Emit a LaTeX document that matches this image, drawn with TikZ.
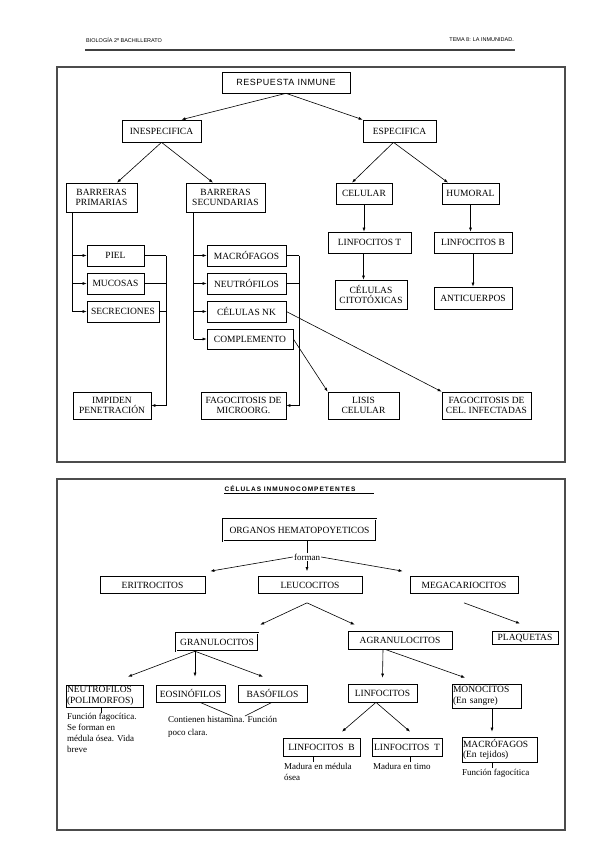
\documentclass[tikz,border=0pt]{standalone}
\usepackage{fontspec}
\setmainfont{Liberation Serif}
\newfontfamily\headsans{Liberation Sans}
\newfontfamily\titlesans[LetterSpace=6]{Liberation Sans}
\newfontfamily\capsans[LetterSpace=15]{Liberation Sans}
\usetikzlibrary{arrows.meta}

\begin{document}
\begin{tikzpicture}[x=1pt, y=-1pt,
        box/.style={draw, line width=0.7pt, inner sep=1pt, align=center, font=\fontsize{9.5}{10.5}\selectfont},
        dbox/.style={box, double, double distance=0.8pt, line width=0.5pt},
        lbox/.style={box, align=left},
        wh/.style 2 args={minimum width=#1pt, minimum height=#2pt},
        note/.style={inner sep=0pt, align=left, anchor=north west, font=\fontsize{9}{11}\selectfont},
        arr/.style={-{Latex[length=4pt,width=3pt]}, line width=0.6pt},
        frame/.style={line width=1.2pt, draw=black!70}]
    \useasboundingbox (0,0) rectangle (599,848);

    % cabecera
    \node[anchor=west, inner sep=0pt, font=\headsans\fontsize{5.5}{6}\selectfont] (hleft) at (86,40) {BIOLOGÍA 2º BACHILLERATO};
    \node[anchor=east, inner sep=0pt, font=\headsans\fontsize{5.5}{6}\selectfont] (hright) at (514,40) {TEMA 8: LA INMUNIDAD.};
    \draw[line width=1.2pt, black!75] (85,50) -- (515,50);

    \draw[frame] (57,67) rectangle (565,462);
    \draw[frame] (57,479) rectangle (565,830);

    % respuesta inmune
    \node[box, wh={128}{21}, font=\titlesans\fontsize{9}{10}\selectfont] (resp) at (286,82.5) {RESPUESTA INMUNE};
    \node[box, wh={79}{22}] (ines) at (161.5,131) {INESPECIFICA};
    \node[box, wh={73}{22}] (espe) at (399.5,131) {ESPECIFICA};
    \node[box, wh={71}{29}] (bprim) at (101.5,197.5) {BARRERAS\\PRIMARIAS};
    \node[box, wh={79}{29}] (bsec) at (225.5,197.5) {BARRERAS\\SECUNDARIAS};
    \node[box, wh={56}{21}] (celu) at (364,193.5) {CELULAR};
    \node[box, wh={57}{21}] (humo) at (470.5,193.5) {HUMORAL};
    \node[box, wh={83}{21}] (lint) at (369.5,242.5) {LINFOCITOS T};
    \node[box, wh={78}{21}] (linb) at (473,242.5) {LINFOCITOS B};
    \node[box, wh={72}{29}] (citot) at (371,294.5) {CÉLULAS\\CITOTÓXICAS};
    \node[box, wh={78}{22}] (anti) at (473,298) {ANTICUERPOS};

    \node[box, wh={57}{21}] (piel) at (115.5,255.5) {PIEL};
    \node[box, wh={57}{21}] (muco) at (115.5,283.5) {MUCOSAS};
    \node[box, wh={72}{21}] (secr) at (123,311.5) {SECRECIONES};
    \node[box, wh={78}{27}] (impid) at (112,405.5) {IMPIDEN\\PENETRACIÓN};

    \node[box, wh={79}{21}] (macro) at (246.5,255.5) {MACRÓFAGOS};
    \node[box, wh={79}{21}] (neutro) at (246.5,283.5) {NEUTRÓFILOS};
    \node[box, wh={79}{21}] (nk) at (246.5,311.5) {CÉLULAS NK};
    \node[box, wh={86}{20}] (compl) at (250,339) {COMPLEMENTO};
    \node[box, wh={85}{27}] (fmicro) at (243.5,405.5) {FAGOCITOSIS DE\\MICROORG.};
    \node[box, wh={71}{27}] (lisis) at (363.5,405.5) {LISIS\\CELULAR};
    \node[box, wh={89}{27}] (finfec) at (486.5,405.5) {FAGOCITOSIS DE\\CEL. INFECTADAS};

    \draw[arr] (resp.south) -- ([xshift=20pt]ines.north);
    \draw[arr] (resp.south) -- (espe.north west);
    \draw[arr] (ines.south) -- ([xshift=15.5pt]bprim.north);
    \draw[arr] (ines.south) -- ([xshift=-12.5pt]bsec.north);
    \draw[arr] ([xshift=-6pt]espe.south) -- ([xshift=-12pt]celu.north);
    \draw[arr] ([xshift=-6pt]espe.south) -- ([xshift=-22.5pt]humo.north);
    \draw[arr] (celu.south) -- (celu.south |- lint.north);
    \draw[arr] (humo.south) -- (humo.south |- linb.north);
    \coordinate (tbot) at ([xshift=-6pt]lint.south);
    \draw[arr] (tbot) -- (tbot |- citot.north);
    \draw[arr] (linb.south) -- (linb.south |- anti.north);

    % barreras primarias
    \coordinate (pbus) at ([xshift=7pt]bprim.south west);
    \draw[line width=0.6pt] (pbus) -- (pbus |- secr.west);
    \foreach \n in {piel, muco, secr}
        \draw[arr] (pbus |- \n.west) -- (\n.west);
    \coordinate (pcol) at ([xshift=22pt]piel.east);
    \draw[line width=0.6pt] (piel.east) -- (pcol);
    \draw[line width=0.6pt] (muco.east) -- (muco.east -| pcol);
    \draw[line width=0.6pt] (secr.east) -- (secr.east -| pcol);
    \draw[arr] (pcol) |- (impid.east);

    % barreras secundarias
    \coordinate (sbus) at ([xshift=8pt]bsec.south west);
    \draw[line width=0.6pt] (sbus) -- (sbus |- compl.west);
    \foreach \n in {macro, neutro, nk, compl}
        \draw[arr] (sbus |- \n.west) -- (\n.west);
    \coordinate (scol) at ([xshift=13pt]macro.east);
    \draw[line width=0.6pt] (macro.east) -- (scol);
    \draw[line width=0.6pt] (neutro.east) -- (neutro.east -| scol);
    \draw[arr] (scol) |- (fmicro.east);
    \draw[arr] (nk.east) -- (finfec.north west);
    \draw[arr] (compl.east) -- (lisis.north west);

    % celulas inmunocompetentes
    \node[inner sep=0pt, font=\capsans\bfseries\fontsize{6.5}{7}\selectfont] (ctit) at (290,489) {CÉLULAS INMUNOCOMPETENTES};
    \draw[line width=0.5pt] ([yshift=-1.5pt]ctit.south west) -- ++(150,0);

    \node[dbox, wh={153}{22}] (organ) at (299.5,530) {ORGANOS HEMATOPOYETICOS};
    \node[inner sep=1pt, font=\fontsize{9}{10}\selectfont] (forman) at (307,557) {forman};
    \node[box, wh={105}{17}] (eritro) at (152.5,585) {ERITROCITOS};
    \node[box, wh={104}{17}] (leuco) at (310,585) {LEUCOCITOS};
    \node[box, wh={108}{17}] (mega) at (464,585) {MEGACARIOCITOS};
    \node[dbox, wh={82}{18}] (gran) at (217,642) {GRANULOCITOS};
    \node[box, wh={104}{18}] (agran) at (400,640) {AGRANULOCITOS};
    \node[box, line width=0.9pt, wh={66}{13}, inner sep=0.5pt, text height=6.5pt, text depth=0.5pt] (plaq) at (525,637.5) {PLAQUETAS};

    \draw[line width=0.6pt] ([xshift=7.5pt]organ.south) -- (forman.north);
    \draw[arr] (forman.west) -- ([xshift=5pt,yshift=5pt]eritro.north east);
    \draw[arr, shorten >=5pt] (forman.south) -- (forman.south |- leuco.north);
    \draw[arr] (forman.east) -- ([xshift=-7pt,yshift=5pt]mega.north west);
    \draw[arr] ([xshift=-3pt,yshift=-9pt]leuco.south) -- ([xshift=2pt,yshift=8pt]gran.north east);
    \draw[arr] ([xshift=-3pt,yshift=-9pt]leuco.south) -- ([xshift=7pt,yshift=6pt]agran.north west);
    \draw[arr] ([yshift=-9pt]mega.south) -- ([xshift=-5pt,yshift=7pt]plaq.north);

    % granulocitos
    \node[lbox, text width=75pt, minimum height=22pt] (neutr) at (104.5,696) {NEUTROFILOS\\(POLIMORFOS)};
    \node[box, wh={69}{17}] (eosi) at (190.5,693.5) {EOSINÓFILOS};
    \node[box, wh={69}{17}] (baso) at (272.5,693.5) {BASÓFILOS};
    \node[note] (nfun) at (67,713) {Función fagocítica.\\Se forman en\\médula ósea. Vida\\breve};
    \node[note, font=\fontsize{9}{13}\selectfont] (eobas) at (168,716) {Contienen histamina. Función\\poco clara.};

    \draw[arr] ([xshift=-22pt]gran.south) -- ([xshift=23.5pt,yshift=8pt]neutr.north);
    \draw[arr] ([xshift=-22pt]gran.south) -- ([xshift=4.5pt,yshift=8pt]eosi.north);
    \draw[arr] ([xshift=-22pt]gran.south) -- ([xshift=-9.5pt,yshift=8pt]baso.north);
    \draw[line width=0.6pt] ([xshift=-3.5pt]neutr.south) -- ++(0,6);
    \draw[line width=0.6pt] ([xshift=9.5pt]eosi.south) -- ([xshift=64pt]eobas.north west);
    \draw[line width=0.6pt] ([xshift=-0.5pt]baso.south) -- ([xshift=77pt]eobas.north west);

    % agranulocitos
    \node[box, wh={69}{18}] (linf) at (382.5,693) {LINFOCITOS};
    \node[lbox, text width=67pt, minimum height=24pt] (mono) at (486.5,696) {MONOCITOS\\(En sangre)};
    \node[box, wh={77}{18}] (lb) at (321.5,747) {LINFOCITOS~~B};
    \node[box, wh={70}{18}] (lt) at (407,747) {LINFOCITOS~~T};
    \node[lbox, text width=73pt, minimum height=25pt] (macr) at (499.5,749.5) {MACRÓFAGOS\\(En tejidos)};
    \node[note] (lbtxt) at (284,763) {Madura en médula\\ósea};
    \node[note] (lttxt) at (373,763) {Madura en timo};
    \node[note] (macrtxt) at (462,769) {Función fagocítica};

    \draw[arr] ([xshift=-17pt]agran.south) -- ([yshift=6pt]linf.north);
    \draw[arr] ([xshift=-15pt]agran.south) -- ([xshift=-21.5pt,yshift=6pt]mono.north);
    \draw[arr] ([xshift=-6.5pt]linf.south) -- ([xshift=20.5pt,yshift=6pt]lb.north);
    \draw[arr] ([xshift=-6.5pt]linf.south) -- ([xshift=3pt,yshift=6pt]lt.north);
    \draw[arr] ([xshift=5.5pt]mono.south) -- ([xshift=-7.5pt,yshift=5pt]macr.north);
    \draw[line width=0.6pt] ([xshift=-8.5pt]lb.south) -- ++(0,6);
    \draw[line width=0.6pt] ([xshift=3pt]lt.south) -- ++(0,6);
    \draw[line width=0.6pt] ([xshift=-7.5pt]macr.south) -- ++(0,6);
\end{tikzpicture}
\end{document}
